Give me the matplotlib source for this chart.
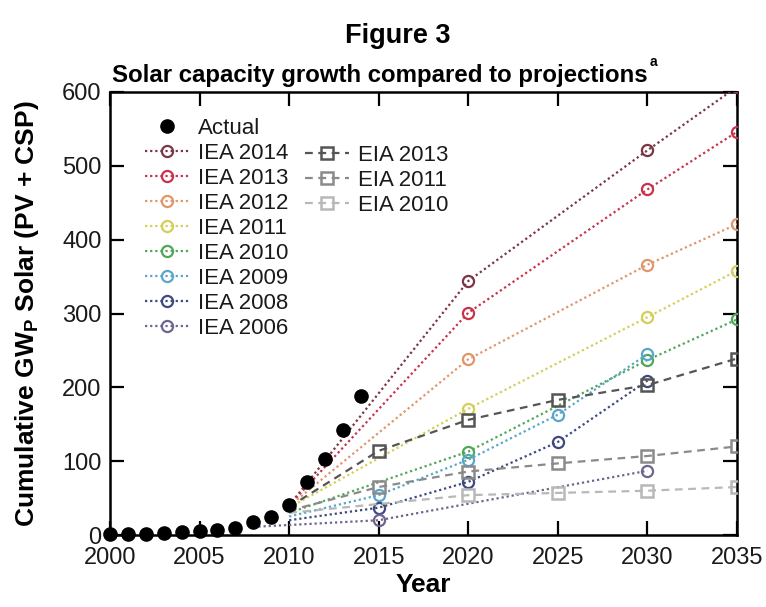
import matplotlib
matplotlib.use("Agg")
import matplotlib.pyplot as plt

plt.rcParams['font.family'] = ['Liberation Sans', 'DejaVu Sans']
plt.rcParams['mathtext.fontset'] = 'custom'
plt.rcParams['mathtext.rm'] = 'Liberation Sans'
plt.rcParams['mathtext.bf'] = 'Liberation Sans:bold'
plt.rcParams['mathtext.default'] = 'regular'

# ---------------- data ----------------
actual_years = [2000, 2001, 2002, 2003, 2004, 2005, 2006, 2007, 2008, 2009, 2010, 2011, 2012, 2013, 2014]
actual_values = [1, 1, 2, 3, 4, 5, 7, 10, 17, 24, 41, 72, 103, 142, 188]

iea2014_years = [2010, 2020, 2030, 2035]
iea2014_values = [40, 344, 521, 607]
iea2013_years = [2010, 2020, 2030, 2035]
iea2013_values = [40, 301, 468, 546]
iea2012_years = [2010, 2020, 2030, 2035]
iea2012_values = [39, 238, 366, 421]
iea2011_years = [2010, 2020, 2030, 2035]
iea2011_values = [37, 171, 295, 358]
iea2010_years = [2010, 2020, 2030, 2035]
iea2010_values = [30, 113, 237, 292]
iea2009_years = [2010, 2015, 2020, 2025, 2030]
iea2009_values = [25, 54, 102, 163, 245]
iea2008_years = [2010, 2015, 2020, 2025, 2030]
iea2008_values = [20, 37, 72, 126, 209]
iea2006_years = [2008, 2015, 2030]
iea2006_values = [11, 20, 87]

eia2013_years = [2010, 2015, 2020, 2025, 2030, 2035]
eia2013_values = [38, 114, 156, 183, 203, 239]
eia2011_years = [2010, 2015, 2020, 2025, 2030, 2035]
eia2011_values = [33, 65, 86, 97, 107, 120]
eia2010_years = [2010, 2020, 2025, 2030, 2035]
eia2010_values = [30, 54, 57, 60, 65]

x_ticks = [2000, 2005, 2010, 2015, 2020, 2025, 2030, 2035]
y_ticks = [0, 100, 200, 300, 400, 500, 600]

# ---------------- figure ----------------
W, H = 766, 607
fig = plt.figure(figsize=(W / 100, H / 100), dpi=100)
ax_left, ax_right, ax_top, ax_bottom = 110, 737, 92, 535
ax = fig.add_axes([ax_left / W, (H - ax_bottom) / H,
                   (ax_right - ax_left) / W, (ax_bottom - ax_top) / H])

dotted = (0, (1.0, 1.3))
dashed = (0, (3.5, 2.5))

iea_styles = [
    ("IEA 2014", iea2014_years, iea2014_values, "#7a3644"),
    ("IEA 2013", iea2013_years, iea2013_values, "#c8324a"),
    ("IEA 2012", iea2012_years, iea2012_values, "#e0966a"),
    ("IEA 2011", iea2011_years, iea2011_values, "#d4cf58"),
    ("IEA 2010", iea2010_years, iea2010_values, "#52a65a"),
    ("IEA 2009", iea2009_years, iea2009_values, "#5aa6c8"),
    ("IEA 2008", iea2008_years, iea2008_values, "#3e4a7e"),
    ("IEA 2006", iea2006_years, iea2006_values, "#6e6490"),
]
eia_styles = [
    ("EIA 2013", eia2013_years, eia2013_values, "#555555"),
    ("EIA 2011", eia2011_years, eia2011_values, "#8a8a8a"),
    ("EIA 2010", eia2010_years, eia2010_values, "#b8b8b8"),
]

iea_handles = []
for label, xs, ys, c in iea_styles:
    h, = ax.plot(xs, ys, linestyle=dotted, color=c, lw=1.6,
                 marker='o', markersize=8, markerfacecolor='none',
                 markeredgecolor=c, markeredgewidth=1.6,
                 markevery=slice(1, None), label=label, zorder=3)
    iea_handles.append(h)

eia_handles = []
for label, xs, ys, c in eia_styles:
    h, = ax.plot(xs, ys, linestyle=dashed, color=c, lw=1.6,
                 marker='s', markersize=8.5, markerfacecolor='none',
                 markeredgecolor=c, markeredgewidth=1.8,
                 markevery=slice(1, None), label=label, zorder=3)
    eia_handles.append(h)

act, = ax.plot(actual_years, actual_values, linestyle='none', marker='o',
               markersize=9.5, color='black', label='Actual', zorder=5,
               clip_on=False)

ax.set_xlim(2000, 2035)
ax.set_ylim(0, 600)
ax.set_xticks(x_ticks)
ax.set_yticks(y_ticks)
ax.tick_params(direction='in', length=10, width=1.6, top=True, right=True,
               labelsize=17, colors='black', labelcolor='#1a1a1a')
ax.tick_params(axis='x', pad=9)
ax.tick_params(axis='y', pad=6)
for sp in ax.spines.values():
    sp.set_linewidth(1.8)

ax.set_xlabel("Year", fontsize=19, fontweight='bold')
ax.xaxis.set_label_coords(0.5, -0.086)
ax.set_ylabel(r"Cumulative GW$_\mathregular{P}$ Solar (PV + CSP)",
              fontsize=19, fontweight='bold')
ax.yaxis.set_label_coords(-0.110, 0.5)

leg_kw = dict(frameon=False, fontsize=16, handlelength=2.0, handletextpad=0.4,
              labelspacing=0.18, borderpad=0, borderaxespad=0, numpoints=1,
              loc='upper left', bbox_transform=fig.transFigure)
leg1 = ax.legend(handles=[act] + iea_handles,
                 bbox_to_anchor=(145 / W, 1 - 118 / H), **leg_kw)
for t in leg1.get_texts():
    t.set_color('#1a1a1a')
ax.add_artist(leg1)
leg2 = ax.legend(handles=eia_handles,
                 bbox_to_anchor=(305 / W, 1 - 145 / H), **leg_kw)
for t in leg2.get_texts():
    t.set_color('#1a1a1a')

# ---------------- title ----------------
fig.text(398 / W, 1 - 43 / H, "Figure 3", ha='center', va='baseline',
         fontsize=19.5, fontweight='bold')
t2 = fig.text(380 / W, 1 - 82 / H, "Solar capacity growth compared to projections",
              ha='center', va='baseline', fontsize=17.3, fontweight='bold')
fig.canvas.draw()
bb = t2.get_window_extent()
fig.text((bb.x1 + 2) / W, 1 - 66 / H, "a", ha='left', va='baseline',
         fontsize=10, fontweight='bold')

fig.savefig("out.png", dpi=100)
